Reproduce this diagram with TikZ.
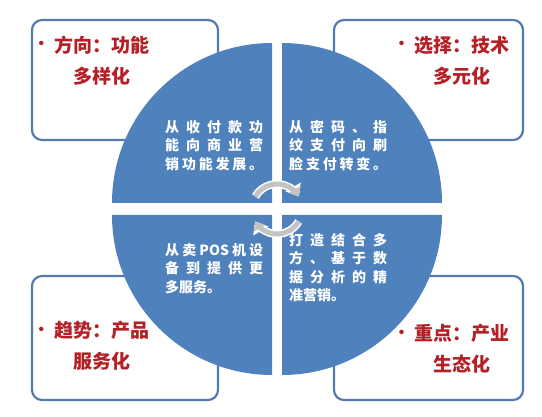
\documentclass[tikz,border=0pt]{standalone}
\usepackage{fontspec}
\newfontfamily\cjk{Noto Sans CJK SC}
\usetikzlibrary{arrows.meta}
\definecolor{quadblue}{RGB}{79,129,189}
\definecolor{boxblue}{RGB}{84,122,178}
\definecolor{headred}{RGB}{180,32,38}
\definecolor{arrowgray}{RGB}{196,196,196}
\ExplSyntaxOn
\NewDocumentCommand\jline{m}{\makebox[98pt][s]{\tl_map_inline:nn {#1} {##1\hfil}\unskip}}
\ExplSyntaxOff
\newcommand{\dotmark}{\makebox[0pt][r]{\raisebox{2.5pt}{\fontsize{16}{16}\selectfont •}\hspace{5pt}}}

\begin{document}
\begin{tikzpicture}[x=1pt,y=1pt]

\tikzset{box/.style = {draw=boxblue, line width=2.2pt, rounded corners=10pt, fill=white}}
\tikzset{head/.style = {text=headred, font=\cjk\bfseries\fontsize{19}{31}\selectfont, align=center, inner sep=0pt}}
\tikzset{quarter/.style = {fill=quadblue}}
\tikzset{info/.style = {text=white, font=\cjk\bfseries\fontsize{14}{18.5}\selectfont, align=left, inner sep=0pt, anchor=north west}}
\tikzset{turnback/.style = {white, line width=8pt, -{Triangle[width=17pt,length=11pt]}}}
\tikzset{turn/.style = {arrowgray, line width=5pt, -{Triangle[width=13pt,length=8pt]}}}
\useasboundingbox (0,0) rectangle (542,416);
%boxes
\node[box, minimum width=186pt, minimum height=120pt] (1) at (125,336) {};
\node[box, minimum width=189pt, minimum height=120pt] (2) at (428.5,336) {};
\node[box, minimum width=186pt, minimum height=124pt] (3) at (125,78) {};
\node[box, minimum width=189pt, minimum height=124pt] (4) at (428.5,78) {};
\node[head] (h1) at (102,355.5) {\dotmark 方向：功能\\多样化};
\node[head] (h2) at (462,355.5) {\dotmark 选择：技术\\多元化};
\node[head] (h3) at (102,70) {\dotmark 趋势：产品\\服务化};
\node[head] (h4) at (462,67) {\dotmark 重点：产业\\生态化};
%quarters
\coordinate (c) at (277,207);
\fill[quarter] (272,213) -- (112,213) arc[start angle=180, end angle=90, radius=160pt] -- cycle;
\fill[quarter] (282,213) -- (282,373) arc[start angle=90, end angle=0, radius=160pt] -- cycle;
\fill[quarter] (272,201) -- (112,201) arc[start angle=180, end angle=270, radius=160pt] -- cycle;
\fill[quarter] (282,201) -- (442,201) arc[start angle=0, end angle=-90, radius=160pt] -- cycle;
\node[info] (q1) at (165,296) {\jline{从收付款功}\\\jline{能向商业营}\\\jline{销功能发展。}};
\node[info] (q2) at (289,296) {\jline{从密码、指}\\\jline{纹支付向刷}\\\jline{脸支付转变。}};
\node[info] (q3) at (165,173) {\jline{从卖{POS}机设}\\\jline{备到提供更}\\多服务。};
\node[info] (q4) at (289,183) {\jline{打造结合多}\\\jline{方、基于数}\\\jline{据分析的精}\\准营销。};
%arrows
\draw[turnback] ([shift={(150:25pt)}]c) arc[start angle=150, end angle=30, radius=25pt];
\draw[turn] ([shift={(150:25pt)}]c) arc[start angle=150, end angle=30, radius=25pt];
\draw[turnback] ([shift={(-30:25pt)}]c) arc[start angle=-30, end angle=-150, radius=25pt];
\draw[turn] ([shift={(-30:25pt)}]c) arc[start angle=-30, end angle=-150, radius=25pt];

\end{tikzpicture}
\end{document}
